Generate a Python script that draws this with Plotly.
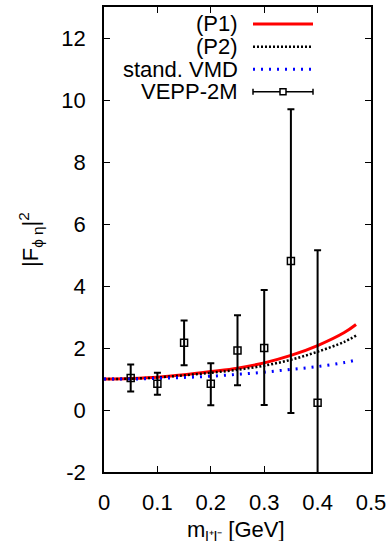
import plotly.graph_objects as go

# ---- data ----
curve_m = [0.0, 0.05, 0.10, 0.15, 0.20, 0.25, 0.30, 0.35, 0.40, 0.45, 0.472]
p1_vals = [1.00, 1.02, 1.06, 1.14, 1.24, 1.35, 1.52, 1.76, 2.08, 2.50, 2.76]
p2_vals = [1.00, 1.01, 1.05, 1.12, 1.20, 1.30, 1.43, 1.62, 1.88, 2.20, 2.40]
vmd_vals = [1.00, 1.00, 1.02, 1.05, 1.09, 1.15, 1.22, 1.31, 1.40, 1.53, 1.61]

vepp_m = [0.05, 0.10, 0.15, 0.20, 0.25, 0.30, 0.35, 0.40]
vepp_val = [1.03, 0.85, 2.17, 0.85, 1.92, 2.00, 4.81, 0.23]
vepp_up = [1.47, 1.20, 2.89, 1.51, 3.06, 3.87, 9.70, 5.15]
vepp_lo = [0.60, 0.49, 1.44, 0.15, 0.80, 0.16, -0.10, -2.60]

x_ticks = [0, 0.1, 0.2, 0.3, 0.4, 0.5]
x_ticklabels = ["0", "0.1", "0.2", "0.3", "0.4", "0.5"]
y_ticks = [-2, 0, 2, 4, 6, 8, 10, 12]
y_ticklabels = ["-2", "0", "2", "4", "6", "8", "10", "12"]

legend_labels = ["(P1)", "(P2)", "stand. VMD", "VEPP-2M"]

FONT = "Liberation Sans, Arial, sans-serif"
FS = 22
RED = "#ff0000"
BLUE = "#0000ff"

fig = go.Figure()
fig.add_trace(go.Scatter(x=curve_m, y=p1_vals, mode="lines",
                         line=dict(color=RED, width=3, shape="spline")))
fig.add_trace(go.Scatter(x=curve_m, y=p2_vals, mode="lines",
                         line=dict(color="black", width=2.5, dash="2px,2px", shape="spline")))
fig.add_trace(go.Scatter(x=curve_m, y=vmd_vals, mode="lines",
                         line=dict(color=BLUE, width=3, dash="2px,6px", shape="spline")))
fig.add_trace(go.Scatter(
    x=vepp_m, y=vepp_val, mode="markers",
    marker=dict(symbol="square-open", size=7, color="black", line=dict(width=1.5, color="black")),
    error_y=dict(type="data", symmetric=False,
                 array=[u - v for u, v in zip(vepp_up, vepp_val)],
                 arrayminus=[v - l for v, l in zip(vepp_val, vepp_lo)],
                 color="black", thickness=2, width=3.5),
))

# ---- manual legend (text on the left, sample on the right, gnuplot style) ----
W, H = 267.0, 465.0
L, T = 104.0, 7.0
def px(x):
    return (x - L) / W
def py(y):
    return (T + H - y) / H

rows_y = [24, 46.7, 69.3, 91.7]
text_right = 240
s0, s1 = 253, 313
annotations = []
for lab, ry in zip(legend_labels, rows_y):
    annotations.append(dict(x=px(text_right), y=py(ry), xref="paper", yref="paper",
                            text=lab, showarrow=False, xanchor="right", yanchor="middle",
                            font=dict(family=FONT, size=FS, color="black")))
shapes = []
shapes.append(dict(type="line", xref="paper", yref="paper", x0=px(s0), x1=px(s1),
                   y0=py(rows_y[0]), y1=py(rows_y[0]), line=dict(color=RED, width=3)))
shapes.append(dict(type="line", xref="paper", yref="paper", x0=px(s0), x1=px(s1),
                   y0=py(rows_y[1]), y1=py(rows_y[1]), line=dict(color="black", width=2.5, dash="2px,2px")))
shapes.append(dict(type="line", xref="paper", yref="paper", x0=px(s0), x1=px(s1),
                   y0=py(rows_y[2]), y1=py(rows_y[2]), line=dict(color=BLUE, width=3, dash="2px,6px")))
ry = rows_y[3]
shapes.append(dict(type="line", xref="paper", yref="paper", x0=px(s0), x1=px(s1),
                   y0=py(ry), y1=py(ry), line=dict(color="black", width=1.5)))
for xe in (s0, s1):
    shapes.append(dict(type="line", xref="paper", yref="paper", x0=px(xe), x1=px(xe),
                       y0=py(ry - 3), y1=py(ry + 3), line=dict(color="black", width=1.5)))
xc = (s0 + s1) / 2
shapes.append(dict(type="rect", xref="paper", yref="paper", x0=px(xc - 3), x1=px(xc + 3),
                   y0=py(ry - 3), y1=py(ry + 3), line=dict(color="black", width=1.5),
                   fillcolor="white"))

# axis titles
annotations.append(dict(x=px(30), y=py(240), xref="paper", yref="paper",
                        text="|F<sub>\u03d5 \u03b7</sub>|<sup>2</sup>", textangle=-90,
                        showarrow=False, xanchor="center", yanchor="middle",
                        font=dict(family=FONT, size=FS, color="black")))
annotations.append(dict(x=px(236), y=py(531), xref="paper", yref="paper",
                        text="m<sub>l\u207al\u207b</sub> [GeV]",
                        showarrow=False, xanchor="center", yanchor="middle",
                        font=dict(family=FONT, size=FS, color="black")))

axis_common = dict(showgrid=False, zeroline=False, showline=True, linecolor="black",
                   linewidth=1.5, mirror="allticks", ticks="inside", ticklen=6,
                   tickwidth=1.2, tickcolor="black",
                   tickfont=dict(family=FONT, size=FS, color="black"))

fig.update_layout(
    width=391, height=541,
    margin=dict(l=104, r=20, t=7, b=69, autoexpand=False),
    paper_bgcolor="white", plot_bgcolor="white",
    showlegend=False,
    xaxis=dict(range=[0, 0.5], tickvals=x_ticks, ticktext=x_ticklabels,
               ticklabelstandoff=10, automargin=False, **axis_common),
    yaxis=dict(range=[-2, 13], tickvals=y_ticks, ticktext=y_ticklabels,
               ticklabelstandoff=12, automargin=False, **axis_common),
    annotations=annotations, shapes=shapes,
)

fig.write_html("out.html", config={"displayModeBar": False},
               post_script="document.body.style.margin='0';document.body.style.overflow='hidden';")
